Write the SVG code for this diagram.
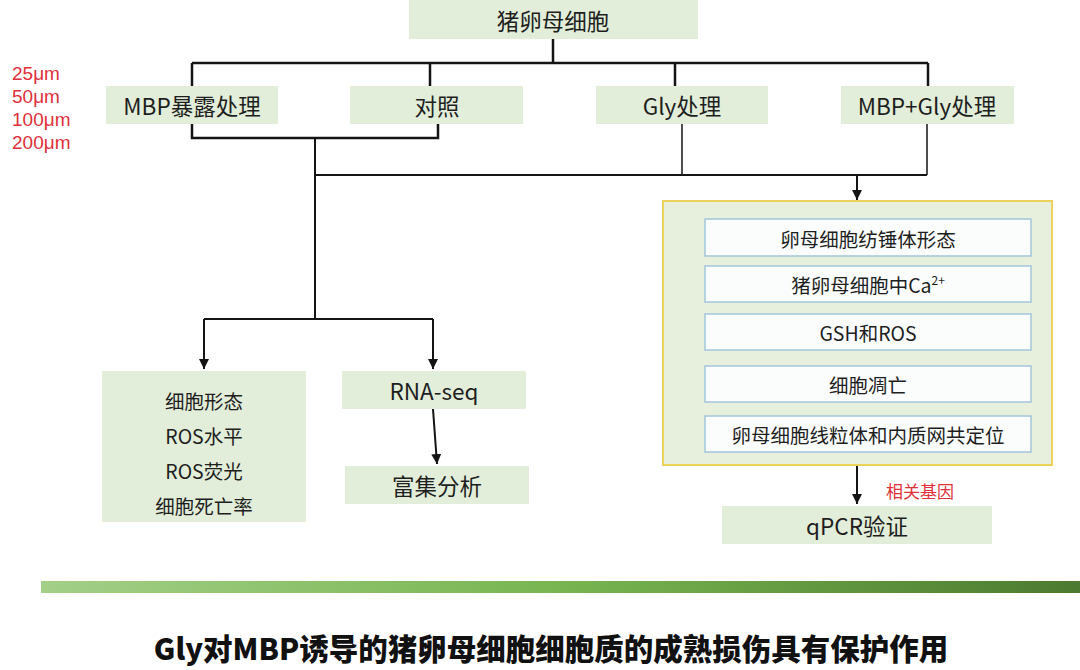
<svg xmlns="http://www.w3.org/2000/svg" width="1080" height="670" viewBox="0 0 1080 670">
<defs>
<style>
.box{fill:#e2eed9;}
.inner{fill:#fbfdfd;stroke:#a3c5da;stroke-width:1.5;}
.outer{fill:#e6f0dc;stroke:#ecd25a;stroke-width:2;}
text{font-family:"Noto Sans CJK SC","Noto Sans",sans-serif;fill:#1e1e1e;text-anchor:middle;dominant-baseline:central;}
.t22{font-size:22.5px;}
.t20{font-size:19.5px;}
.red{font-family:"Liberation Sans",Arial,sans-serif;fill:#e0303a;text-anchor:start;font-size:19px;}
.lab{fill:#e0303a;font-size:17px;}
.title{font-size:29.5px;font-weight:900;fill:#111;}
.thick{stroke:#141414;stroke-width:2.5;fill:none;}
.mid{stroke:#141414;stroke-width:2;fill:none;}
.thin{stroke:#222;stroke-width:1.6;fill:none;}
</style>
<marker id="arr" viewBox="0 0 10 10" refX="10" refY="5" markerWidth="10" markerHeight="10" markerUnits="userSpaceOnUse" orient="auto">
<path d="M0,0 L10,5 L0,10 Z" fill="#141414"/>
</marker>
<linearGradient id="bar" x1="0" y1="0" x2="1" y2="0">
<stop offset="0" stop-color="#a3cf88"/>
<stop offset="0.5" stop-color="#78b550"/>
<stop offset="1" stop-color="#4c7a30"/>
</linearGradient>
</defs>

<g id="connectors">
<path class="thick" d="M553,39 V63 M192,63 H928 M192,63 V86 M430,63 V86 M675,63 V86 M928,63 V86"/>
<path class="thick" d="M192,124 V138 H438 V124"/>
<path class="mid" d="M315,138 V319 M204,319 H433"/>
<path class="mid" d="M204,319 V369" marker-end="url(#arr)"/>
<path class="mid" d="M433,319 V369" marker-end="url(#arr)"/>
<path class="mid" d="M315,175 H927"/>
<path class="thin" d="M682,124 V175 M927,124 V175"/>
<path class="mid" d="M857,175 V200" marker-end="url(#arr)"/>
<path class="mid" d="M433,409 L437,464" marker-end="url(#arr)"/>
<path class="mid" d="M857,465 V504" marker-end="url(#arr)"/>
</g>

<g id="concentrations">
<text class="red" x="12" y="73">25μm</text>
<text class="red" x="12" y="96">50μm</text>
<text class="red" x="12" y="119">100μm</text>
<text class="red" x="12" y="142">200μm</text>
</g>

<g id="n-oocyte">
<rect class="box" x="409" y="0" width="289" height="39"/>
<text class="t22" x="553" y="20">猪卵母细胞</text>
</g>
<g id="n-mbp">
<rect class="box" x="106" y="86" width="172" height="38"/>
<text class="t22" x="192" y="105">MBP暴露处理</text>
</g>
<g id="n-control">
<rect class="box" x="350" y="86" width="173" height="38"/>
<text class="t22" x="437" y="105">对照</text>
</g>
<g id="n-gly">
<rect class="box" x="596" y="86" width="172" height="38"/>
<text class="t22" x="682" y="105">Gly处理</text>
</g>
<g id="n-mbpgly">
<rect class="box" x="841" y="86" width="173" height="38"/>
<text class="t22" x="927" y="105">MBP+Gly处理</text>
</g>

<g id="n-cell">
<rect class="box" x="102" y="371" width="204" height="151"/>
<text class="t20" x="204" y="400">细胞形态</text>
<text class="t20" x="204" y="435">ROS水平</text>
<text class="t20" x="204" y="470">ROS荧光</text>
<text class="t20" x="204" y="505">细胞死亡率</text>
</g>
<g id="n-rnaseq">
<rect class="box" x="342" y="371" width="184" height="38"/>
<text class="t22" x="434" y="390">RNA-seq</text>
</g>
<g id="n-enrich">
<rect class="box" x="345" y="466" width="184" height="38"/>
<text class="t22" x="437" y="485">富集分析</text>
</g>

<g id="n-panel">
<rect class="outer" x="663" y="201" width="389" height="264"/>
<rect class="inner" x="705" y="219" width="326" height="37"/>
<text class="t20" x="868" y="238">卵母细胞纺锤体形态</text>
<rect class="inner" x="705" y="266" width="326" height="36"/>
<text class="t20" x="868" y="284">猪卵母细胞中Ca<tspan font-size="12" dy="-5">2+</tspan></text>
<rect class="inner" x="705" y="314" width="326" height="36"/>
<text class="t20" x="868" y="332">GSH和ROS</text>
<rect class="inner" x="705" y="366" width="326" height="36"/>
<text class="t20" x="868" y="384">细胞凋亡</text>
<rect class="inner" x="705" y="416" width="326" height="36"/>
<text class="t20" x="868" y="434">卵母细胞线粒体和内质网共定位</text>
</g>

<g id="label-genes">
<text class="lab" x="920" y="490">相关基因</text>
</g>

<g id="n-qpcr">
<rect class="box" x="722" y="506" width="270" height="38"/>
<text class="t22" x="857" y="525">qPCR验证</text>
</g>

<rect x="41" y="581" width="1039" height="12" fill="url(#bar)"/>
<text class="title" x="551" y="647">Gly对MBP诱导的猪卵母细胞细胞质的成熟损伤具有保护作用</text>
</svg>
